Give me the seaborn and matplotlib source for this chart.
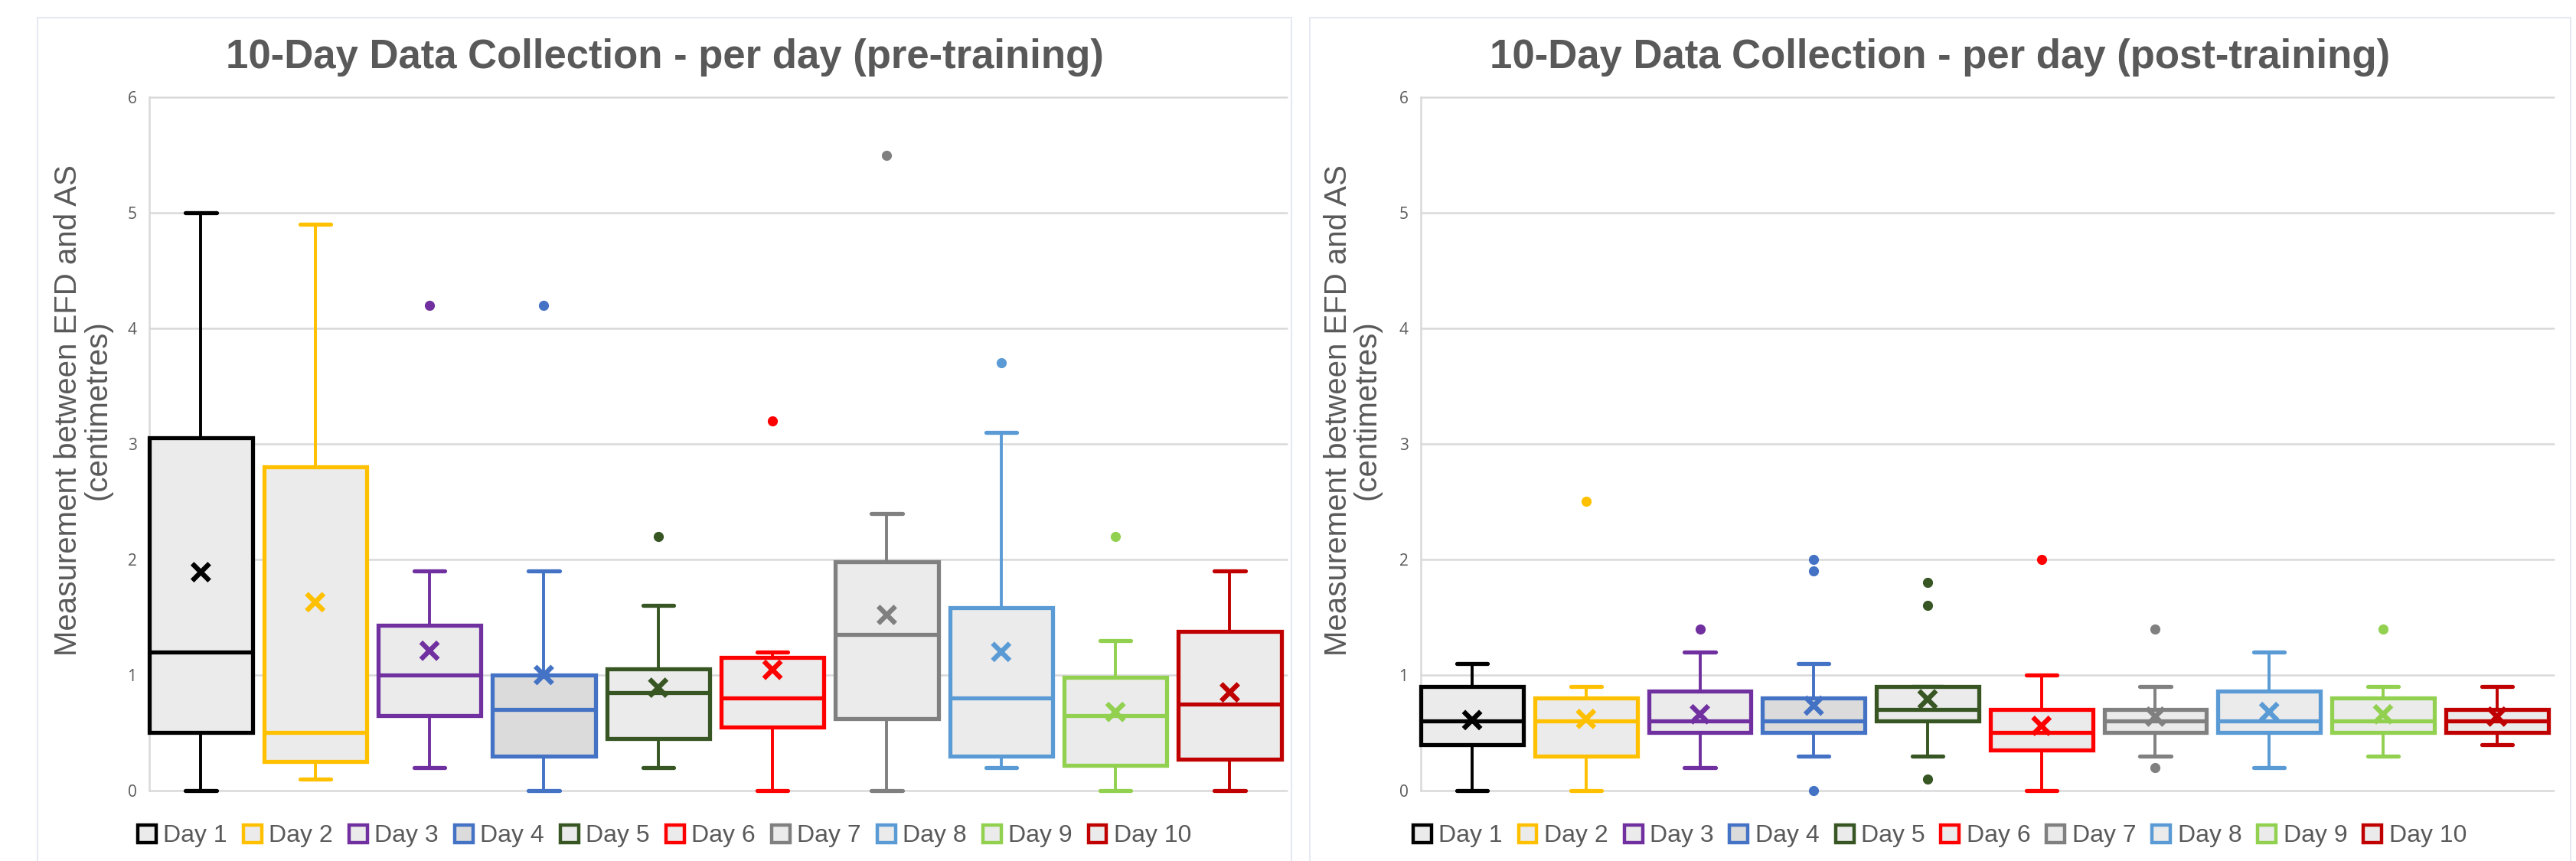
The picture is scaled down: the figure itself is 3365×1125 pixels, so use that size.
import numpy as np
import pandas as pd
import matplotlib
matplotlib.use("Agg")
import matplotlib.pyplot as plt
from matplotlib.patches import Patch, Rectangle
import seaborn as sns

# ---------------- data ----------------
days = ["Day 1", "Day 2", "Day 3", "Day 4", "Day 5",
        "Day 6", "Day 7", "Day 8", "Day 9", "Day 10"]
colors = ["#000000", "#FFC000", "#7030A0", "#4472C4", "#375623",
          "#FF0000", "#808080", "#5B9BD5", "#92D050", "#C00000"]
fills = ["#EBEBEB", "#EBEBEB", "#EBEBEB", "#DBDBDB", "#EBEBEB",
         "#EBEBEB", "#EBEBEB", "#EBEBEB", "#EBEBEB", "#EBEBEB"]

# pre-training
pre_lo   = [0.0, 0.10, 0.20, 0.0, 0.20, 0.0, 0.0, 0.20, 0.0, 0.0]
pre_q1   = [0.50, 0.25, 0.65, 0.30, 0.45, 0.55, 0.62, 0.30, 0.22, 0.27]
pre_med  = [1.20, 0.50, 1.00, 0.70, 0.85, 0.80, 1.35, 0.80, 0.65, 0.75]
pre_q3   = [3.05, 2.80, 1.43, 1.00, 1.05, 1.15, 1.98, 1.58, 0.98, 1.38]
pre_hi   = [5.00, 4.90, 1.90, 1.90, 1.60, 1.20, 2.40, 3.10, 1.30, 1.90]
pre_mean = [1.89, 1.63, 1.21, 1.00, 0.89, 1.045, 1.52, 1.20, 0.68, 0.85]
pre_out  = [[], [], [4.2], [4.2], [2.2], [3.2], [5.5], [3.7], [2.2], []]

# post-training
post_lo   = [0.0, 0.0, 0.20, 0.30, 0.30, 0.0, 0.30, 0.20, 0.30, 0.40]
post_q1   = [0.40, 0.30, 0.50, 0.50, 0.60, 0.35, 0.50, 0.50, 0.50, 0.50]
post_med  = [0.60, 0.60, 0.60, 0.60, 0.70, 0.50, 0.60, 0.60, 0.60, 0.60]
post_q3   = [0.90, 0.80, 0.86, 0.80, 0.90, 0.70, 0.70, 0.86, 0.80, 0.70]
post_hi   = [1.10, 0.90, 1.20, 1.10, 0.90, 1.00, 0.90, 1.20, 0.90, 0.90]
post_mean = [0.61, 0.62, 0.66, 0.735, 0.79, 0.56, 0.64, 0.68, 0.66, 0.64]
post_out  = [[], [2.5], [1.4], [2.0, 1.9, 0.0], [1.8, 1.6, 0.1],
             [2.0], [1.4, 0.2], [], [1.4], []]

titles = ["10-Day Data Collection - per day (pre-training)",
          "10-Day Data Collection - per day (post-training)"]
ylabel = "Measurement between EFD and AS\n(centimetres)"
yticks = [0, 1, 2, 3, 4, 5, 6]

# ---------------- style ----------------
sns.set_theme(style="white")
plt.rcParams['font.family'] = ['Liberation Sans', 'DejaVu Sans']
TXT = "#595959"
GRID = "#D9D9D9"

fig = plt.figure(figsize=(33.65, 11.25), dpi=100)
axL = fig.add_axes([0.0580, 0.0818, 0.4416, 0.8053])
axR = fig.add_axes([0.5516, 0.0818, 0.4398, 0.8053])


def draw(ax, lo, q1, med, q3, hi, mean, outs):
    pos = np.arange(len(days))
    stats = []
    for i, d in enumerate(days):
        stats.append(dict(label=d, whislo=lo[i], q1=q1[i], med=med[i],
                          q3=q3[i], whishi=hi[i], mean=mean[i],
                          fliers=np.array(outs[i], dtype=float)))
    bp = ax.bxp(stats, positions=pos, widths=0.9, patch_artist=True,
                showmeans=False, showfliers=True, capwidths=0.27)
    for i, c in enumerate(colors):
        bp['boxes'][i].set(facecolor=fills[i], edgecolor=c, linewidth=3.8,
                           zorder=3, clip_on=False)
        bp['medians'][i].set(color=c, linewidth=3.8, zorder=4, clip_on=False)
        for w in bp['whiskers'][2 * i:2 * i + 2]:
            w.set(color=c, linewidth=2.8, zorder=2, clip_on=False)
        for cp in bp['caps'][2 * i:2 * i + 2]:
            cp.set(color=c, linewidth=3.8, zorder=2, clip_on=False)
        bp['fliers'][i].set(marker='o', markerfacecolor=c,
                            markeredgecolor=c, markersize=8,
                            markeredgewidth=1.5, zorder=5, clip_on=False)
    df = pd.DataFrame({"pos": pos, "mean": mean, "day": days})
    sns.scatterplot(data=df, x="pos", y="mean", hue="day", palette=colors,
                    marker="x", s=260, linewidth=4.6, legend=False, ax=ax,
                    zorder=6, clip_on=False)

    ax.set_xlim(-0.45, 9.5)
    ax.set_ylim(0, 6)
    ax.set_yticks(yticks)
    ax.set_yticklabels([str(t) for t in yticks], fontsize=15, color=TXT,
                       family=['Open Sans', 'DejaVu Sans'])
    ax.set_xticks([])
    ax.set_xlabel("")
    ax.set_ylabel("")
    ax.tick_params(axis='y', length=0, pad=12)
    ax.yaxis.grid(True, color=GRID, linewidth=1.8)
    for gl in ax.get_ygridlines():
        gl.set_clip_on(False)
    ax.set_axisbelow(True)
    for s in ["top", "right", "bottom"]:
        ax.spines[s].set_visible(False)
    ax.spines["left"].set_color(GRID)
    ax.spines["left"].set_linewidth(1.8)
    ax.set_facecolor("white")


draw(axL, pre_lo, pre_q1, pre_med, pre_q3, pre_hi, pre_mean, pre_out)
draw(axR, post_lo, post_q1, post_med, post_q3, post_hi, post_mean, post_out)

# panel frames
for x0, x1 in [(49, 1687), (1711, 3358)]:
    fig.add_artist(Rectangle((x0 / 3365, -0.01), (x1 - x0) / 3365,
                             1 - 23 / 1125 + 0.01, transform=fig.transFigure,
                             fill=False, edgecolor="#E6E9F2", linewidth=1.5))

# titles
for xc, t in [(0.258, titles[0]), (0.753, titles[1])]:
    fig.text(xc, 0.933, t, ha="center", va="center", fontsize=38,
             fontweight="bold", color=TXT)

# y labels
for xc in [0.0321, 0.5251]:
    fig.text(xc, 0.5236, ylabel, rotation=90, ha="center", va="center",
             fontsize=29, color=TXT, linespacing=1.0, multialignment="center")

# legends
handles = [Patch(facecolor=fills[i], edgecolor=colors[i], linewidth=3.2)
           for i in range(len(days))]
for xc in [0.258, 0.753]:
    fig.legend(handles, days, loc="center", bbox_to_anchor=(xc, 0.029),
               ncol=10, frameon=False, fontsize=23, handlelength=0.75,
               handleheight=0.75, handletextpad=0.3, columnspacing=0.65,
               labelcolor=TXT, borderaxespad=0)

fig.savefig("out.png", dpi=100)
